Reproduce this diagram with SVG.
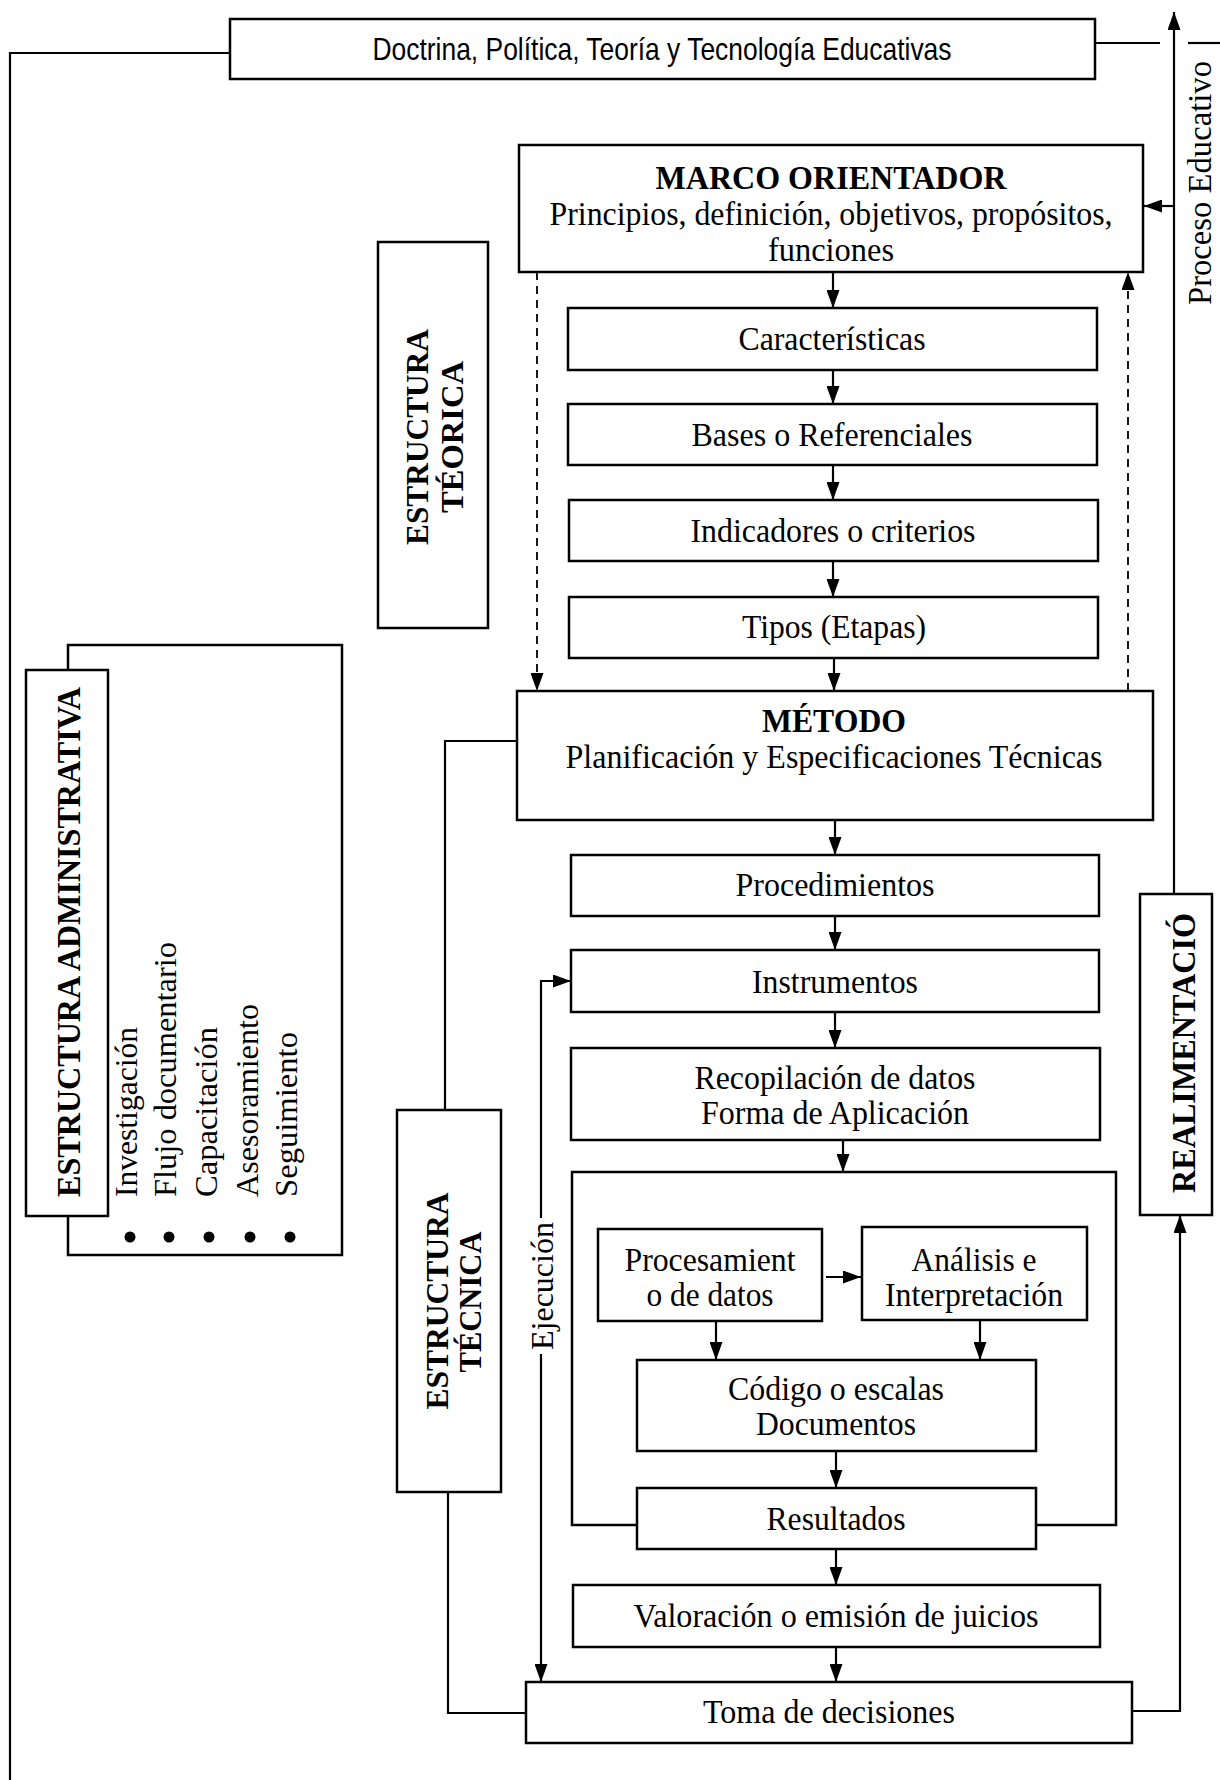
<svg xmlns="http://www.w3.org/2000/svg" width="1220" height="1780" viewBox="0 0 1220 1780">
<style>
.box{fill:#fff;stroke:#000;stroke-width:2.5}
.frame{fill:none;stroke:#000;stroke-width:2.5}
.ln{fill:none;stroke:#000;stroke-width:2.2}
.dash{fill:none;stroke:#000;stroke-width:1.8;stroke-dasharray:8 6}
.t{font-family:"Liberation Serif","Times New Roman",serif;font-size:33px;fill:#000;text-anchor:middle}
.b{font-family:"Liberation Serif","Times New Roman",serif;font-weight:bold;fill:#000}
.s{font-family:"Liberation Sans",Arial,sans-serif;font-size:32px;fill:#000;text-anchor:middle}
.it{font-family:"Liberation Serif","Times New Roman",serif;font-size:32px;fill:#000}
</style>
<defs>
<marker id="ah" viewBox="0 0 18 13" refX="18" refY="6.5" markerWidth="18" markerHeight="13" markerUnits="userSpaceOnUse" orient="auto">
<path d="M0,0 L18,6.5 L0,13 z" fill="#000"/>
</marker>
</defs>
<rect width="1220" height="1780" fill="#fff"/>

<g id="connectors">
<path class="ln" d="M230,53 H10 V1780"/>
<path class="ln" d="M1095,43 H1160"/>
<path class="ln" d="M1188,43 H1220"/>
<path class="ln" d="M1174,894 V12" marker-end="url(#ah)"/>
<path class="ln" d="M1174,206 H1144" marker-end="url(#ah)"/>
<path class="ln" d="M833,272 V308" marker-end="url(#ah)"/>
<path class="ln" d="M833,370 V404" marker-end="url(#ah)"/>
<path class="ln" d="M833,465 V500" marker-end="url(#ah)"/>
<path class="ln" d="M833,561 V597" marker-end="url(#ah)"/>
<path class="ln" d="M834,658 V691" marker-end="url(#ah)"/>
<path class="dash" d="M537,272 V691" marker-end="url(#ah)"/>
<path class="dash" d="M1128,691 V272" marker-end="url(#ah)"/>
<path class="ln" d="M835,820 V855" marker-end="url(#ah)"/>
<path class="ln" d="M835,916 V950" marker-end="url(#ah)"/>
<path class="ln" d="M835,1012 V1048" marker-end="url(#ah)"/>
<path class="ln" d="M843,1140 V1172" marker-end="url(#ah)"/>
<path class="ln" d="M826,1277 H861" marker-end="url(#ah)"/>
<path class="ln" d="M716,1321 V1360" marker-end="url(#ah)"/>
<path class="ln" d="M980,1320 V1360" marker-end="url(#ah)"/>
<path class="ln" d="M836,1451 V1488" marker-end="url(#ah)"/>
<path class="ln" d="M836,1549 V1585" marker-end="url(#ah)"/>
<path class="ln" d="M836,1647 V1682" marker-end="url(#ah)"/>
<path class="ln" d="M1132,1711 H1180 V1215" marker-end="url(#ah)"/>
<path class="ln" d="M541,1218 V981 H571" marker-end="url(#ah)"/>
<path class="ln" d="M541,1354 V1682" marker-end="url(#ah)"/>
<path class="ln" d="M517,741 H445 V1110"/>
<path class="ln" d="M448,1492 V1713 H526"/>
</g>

<g id="doctrina">
<rect class="box" x="230" y="19" width="865" height="60"/>
<text class="s" x="662" y="60" textLength="579" lengthAdjust="spacingAndGlyphs">Doctrina, Política, Teoría y Tecnología Educativas</text>
</g>

<g id="proceso-educativo">
<text class="t" transform="translate(1211,183) rotate(-90)" x="0" y="0" style="font-size:34px" textLength="244" lengthAdjust="spacingAndGlyphs">Proceso Educativo</text>
</g>

<g id="marco-orientador">
<rect class="box" x="519" y="145" width="624" height="127"/>
<text class="b" x="831" y="189" style="font-size:34px;text-anchor:middle" textLength="351" lengthAdjust="spacingAndGlyphs">MARCO ORIENTADOR</text>
<text class="t" x="831" y="225" textLength="563" lengthAdjust="spacingAndGlyphs">Principios, definición, objetivos, propósitos,</text>
<text class="t" x="831" y="261" textLength="126" lengthAdjust="spacingAndGlyphs">funciones</text>
</g>

<g id="estructura-teorica">
<rect class="box" x="378" y="242" width="110" height="386"/>
<text class="b" transform="translate(428,437) rotate(-90)" style="font-size:32px;text-anchor:middle" textLength="216" lengthAdjust="spacingAndGlyphs">ESTRUCTURA</text>
<text class="b" transform="translate(463,437) rotate(-90)" style="font-size:32px;text-anchor:middle" textLength="152" lengthAdjust="spacingAndGlyphs">TÉORICA</text>
</g>

<g id="caracteristicas">
<rect class="box" x="568" y="308" width="529" height="62"/>
<text class="t" x="832" y="350" textLength="187" lengthAdjust="spacingAndGlyphs">Características</text>
</g>
<g id="bases">
<rect class="box" x="568" y="404" width="529" height="61"/>
<text class="t" x="832" y="446" textLength="281" lengthAdjust="spacingAndGlyphs">Bases o Referenciales</text>
</g>
<g id="indicadores">
<rect class="box" x="569" y="500" width="529" height="61"/>
<text class="t" x="833" y="542" textLength="285" lengthAdjust="spacingAndGlyphs">Indicadores o criterios</text>
</g>
<g id="tipos">
<rect class="box" x="569" y="597" width="529" height="61"/>
<text class="t" x="834" y="638" textLength="184" lengthAdjust="spacingAndGlyphs">Tipos (Etapas)</text>
</g>

<g id="metodo">
<rect class="box" x="517" y="691" width="636" height="129"/>
<text class="b" x="834" y="732" style="font-size:33px;text-anchor:middle" textLength="144" lengthAdjust="spacingAndGlyphs">MÉTODO</text>
<text class="t" x="834" y="768" textLength="537" lengthAdjust="spacingAndGlyphs">Planificación y Especificaciones Técnicas</text>
</g>

<g id="procedimientos">
<rect class="box" x="571" y="855" width="528" height="61"/>
<text class="t" x="835" y="896" textLength="199" lengthAdjust="spacingAndGlyphs">Procedimientos</text>
</g>
<g id="instrumentos">
<rect class="box" x="571" y="950" width="528" height="62"/>
<text class="t" x="835" y="993" textLength="166" lengthAdjust="spacingAndGlyphs">Instrumentos</text>
</g>
<g id="recopilacion">
<rect class="box" x="571" y="1048" width="529" height="92"/>
<text class="t" x="835" y="1089" textLength="281" lengthAdjust="spacingAndGlyphs">Recopilación de datos</text>
<text class="t" x="835" y="1124" textLength="268" lengthAdjust="spacingAndGlyphs">Forma de Aplicación</text>
</g>

<g id="grupo-procesamiento">
<rect class="frame" x="572" y="1172" width="544" height="353"/>
</g>
<g id="procesamiento">
<rect class="box" x="598" y="1229" width="224" height="92"/>
<text class="t" x="710" y="1271" textLength="171" lengthAdjust="spacingAndGlyphs">Procesamient</text>
<text class="t" x="710" y="1306" textLength="127" lengthAdjust="spacingAndGlyphs">o de datos</text>
</g>
<g id="analisis">
<rect class="box" x="862" y="1227" width="225" height="93"/>
<text class="t" x="974" y="1271" textLength="125" lengthAdjust="spacingAndGlyphs">Análisis e</text>
<text class="t" x="974" y="1306" textLength="178" lengthAdjust="spacingAndGlyphs">Interpretación</text>
</g>
<g id="codigo">
<rect class="box" x="637" y="1360" width="399" height="91"/>
<text class="t" x="836" y="1400" textLength="216" lengthAdjust="spacingAndGlyphs">Código o escalas</text>
<text class="t" x="836" y="1435" textLength="160" lengthAdjust="spacingAndGlyphs">Documentos</text>
</g>
<g id="resultados">
<rect class="box" x="637" y="1488" width="399" height="61"/>
<text class="t" x="836" y="1530" textLength="139" lengthAdjust="spacingAndGlyphs">Resultados</text>
</g>
<g id="valoracion">
<rect class="box" x="573" y="1585" width="527" height="62"/>
<text class="t" x="836" y="1627" textLength="405" lengthAdjust="spacingAndGlyphs">Valoración o emisión de juicios</text>
</g>
<g id="toma-decisiones">
<rect class="box" x="526" y="1682" width="606" height="61"/>
<text class="t" x="829" y="1723" textLength="252" lengthAdjust="spacingAndGlyphs">Toma de decisiones</text>
</g>

<g id="realimentacion">
<rect class="box" x="1140" y="894" width="72" height="321"/>
<text class="b" transform="translate(1195,1193) rotate(-90)" style="font-size:34px" textLength="280" lengthAdjust="spacingAndGlyphs">REALIMENTACIÓ</text>
</g>

<g id="ejecucion">
<text class="t" transform="translate(553,1286) rotate(-90)" style="font-size:31px" textLength="128" lengthAdjust="spacingAndGlyphs">Ejecución</text>
</g>

<g id="estructura-tecnica">
<rect class="box" x="397" y="1110" width="104" height="382"/>
<text class="b" transform="translate(448,1301) rotate(-90)" style="font-size:32px;text-anchor:middle" textLength="217" lengthAdjust="spacingAndGlyphs">ESTRUCTURA</text>
<text class="b" transform="translate(481,1302) rotate(-90)" style="font-size:32px;text-anchor:middle" textLength="141" lengthAdjust="spacingAndGlyphs">TÉCNICA</text>
</g>

<g id="estructura-administrativa">
<rect class="frame" x="68" y="645" width="274" height="610"/>
<rect class="box" x="26" y="670" width="82" height="546"/>
<text class="b" transform="translate(80,1197) rotate(-90)" style="font-size:33px" textLength="510" lengthAdjust="spacingAndGlyphs">ESTRUCTURA ADMINISTRATIVA</text>
<text class="it" transform="translate(137,1197) rotate(-90)" textLength="170" lengthAdjust="spacingAndGlyphs">Investigación</text>
<text class="it" transform="translate(176,1197) rotate(-90)" textLength="255" lengthAdjust="spacingAndGlyphs">Flujo documentario</text>
<text class="it" transform="translate(217,1197) rotate(-90)" textLength="170" lengthAdjust="spacingAndGlyphs">Capacitación</text>
<text class="it" transform="translate(258,1197) rotate(-90)" textLength="193" lengthAdjust="spacingAndGlyphs">Asesoramiento</text>
<text class="it" transform="translate(297,1197) rotate(-90)" textLength="165" lengthAdjust="spacingAndGlyphs">Seguimiento</text>
<circle cx="130" cy="1237" r="5.5"/>
<circle cx="169" cy="1237" r="5.5"/>
<circle cx="209" cy="1237" r="5.5"/>
<circle cx="250" cy="1237" r="5.5"/>
<circle cx="290" cy="1237" r="5.5"/>
</g>
</svg>
